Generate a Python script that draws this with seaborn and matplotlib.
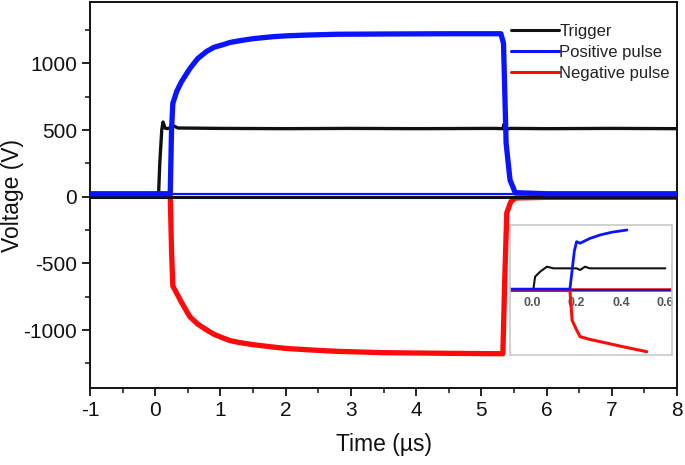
import numpy as np
import pandas as pd
import matplotlib
matplotlib.use("Agg")
import matplotlib.pyplot as plt
import seaborn as sns
from matplotlib.ticker import MultipleLocator

# ---- main traces (time in µs, voltage in V) ----
t_trigger = [-1, 0.05, 0.07, 0.10, 0.12, 0.15, 0.18, 0.22, 0.26, 0.35, 1, 2, 3, 4, 5.2, 5.33, 5.35, 5.37, 5.45, 6, 7, 8]
v_trigger = [0, 0, 250, 500, 560, 515, 510, 515, 535, 515, 512, 510, 512, 510, 512, 510, 545, 505, 512, 510, 512, 510]

t_pos = [-1, 0.23, 0.25, 0.27, 0.33, 0.40, 0.53, 0.65, 0.79, 0.90, 1.04, 1.15, 1.30, 1.50, 1.81, 2.0, 2.32, 2.78, 3.5, 4.5, 5.3, 5.34, 5.38, 5.44, 5.52, 6, 8]
v_pos = [22, 22, 500, 700, 790, 860, 960, 1035, 1090, 1120, 1140, 1157, 1170, 1185, 1200, 1206, 1212, 1218, 1220, 1222, 1222, 1150, 400, 125, 30, 22, 22]
pos_baseline = 22

t_neg = [-1, 0.23, 0.25, 0.27, 0.33, 0.40, 0.53, 0.65, 0.79, 0.90, 1.04, 1.15, 1.30, 1.50, 1.81, 2.0, 2.32, 2.78, 3.5, 4.5, 5.3, 5.33, 5.36, 5.39, 5.45, 5.52, 6, 8]
v_neg = [15, 15, -400, -670, -725, -790, -900, -955, -1000, -1032, -1060, -1080, -1095, -1110, -1128, -1138, -1148, -1160, -1170, -1175, -1178, -1178, -600, -122, -40, -10, -5, -5]

# ---- inset traces ----
ti_trig = [-0.1, 0.005, 0.013, 0.036, 0.066, 0.096, 0.2, 0.216, 0.238, 0.26, 0.6]
vi_trig = [0, 0, 307, 423, 538, 500, 500, 462, 538, 500, 500]
ti_pos = [-0.1, 0.17, 0.19, 0.20, 0.216, 0.26, 0.306, 0.36, 0.427]
vi_pos = [20, 20, 900, 1115, 1080, 1190, 1270, 1335, 1385]
ti_neg = [-0.1, 0.17, 0.18, 0.20, 0.216, 0.26, 0.306, 0.41, 0.516]
vi_neg = [-10, -10, -700, -923, -1077, -1140, -1192, -1310, -1423]

labels = ["Trigger", "Positive pulse", "Negative pulse"]
colors = {"Trigger": "#111111", "Positive pulse": "#0a14ff", "Negative pulse": "#ff0a0a"}
x_ticks = [-1, 0, 1, 2, 3, 4, 5, 6, 7, 8]
y_ticks = [-1000, -500, 0, 500, 1000]
inset_ticks = [0.0, 0.2, 0.4, 0.6]
inset_ticklabels = ["0.0", "0.2", "0.4", "0.6"]

sns.set_style("ticks")
plt.rcParams["font.family"] = ["Liberation Sans", "DejaVu Sans"]
plt.rcParams["axes.unicode_minus"] = False

fig = plt.figure(figsize=(6.85, 4.65), dpi=100)
ax = fig.add_axes([90/685, 1-388/465, 587/685, 386/465])

main = pd.concat([
    pd.DataFrame({"t": t_neg, "v": v_neg, "s": "Negative pulse"}),
    pd.DataFrame({"t": t_trigger, "v": v_trigger, "s": "Trigger"}),
    pd.DataFrame({"t": t_pos, "v": v_pos, "s": "Positive pulse"}),
])
lw = {"Trigger": 2.4, "Positive pulse": 3.8, "Negative pulse": 3.8}
z = {"Negative pulse": 2, "Trigger": 3, "Positive pulse": 4}
for name in ["Negative pulse", "Trigger", "Positive pulse"]:
    sns.lineplot(data=main[main.s == name], x="t", y="v", color=colors[name],
                 lw=lw[name], sort=False, estimator=None, ax=ax, zorder=z[name])
ax.axhline(0, color="#111111", lw=2.2, zorder=3.5)
ax.axhline(pos_baseline, color=colors["Positive pulse"], lw=1.6, zorder=3.6)

ax.set_xlim(-1, 8)
ax.set_ylim(-1435, 1460)
ax.set_xticks(x_ticks)
ax.set_xticklabels([str(v) for v in x_ticks])
ax.set_yticks(y_ticks)
ax.set_yticklabels([str(v) for v in y_ticks])
ax.xaxis.set_minor_locator(MultipleLocator(0.5))
ax.yaxis.set_minor_locator(MultipleLocator(250))
ax.tick_params(which="major", direction="out", length=6, width=1.3, labelsize=15, color="#111111", labelcolor="#111111")
ax.tick_params(which="minor", direction="out", length=3.5, width=1.1, color="#111111")
for sp in ax.spines.values():
    sp.set_linewidth(1.4)
    sp.set_color("#111111")
ax.set_xlabel("Time (µs)", fontsize=16.5, color="#111111", labelpad=9)
ax.set_ylabel("Voltage (V)", fontsize=16.5, color="#111111")
ax.yaxis.set_label_coords((24-90)/587, 0.5)

handles = [plt.Line2D([], [], color=colors[n], lw=2.2) for n in labels]
leg = fig.legend(handles, labels, loc="upper left", bbox_to_anchor=(511/685, 1-24/465),
                 frameon=False, fontsize=12, handlelength=2.9, handletextpad=0.0,
                 labelspacing=0.35, borderpad=0, borderaxespad=0)
for t in leg.get_texts():
    t.set_color("#222222")

# ---- inset ----
axi = fig.add_axes([510/685, 1-355/465, 162/685, 130/465])
axi.set_facecolor("white")
inset = pd.concat([
    pd.DataFrame({"t": ti_trig, "v": vi_trig, "s": "Trigger"}),
    pd.DataFrame({"t": ti_neg, "v": vi_neg, "s": "Negative pulse"}),
    pd.DataFrame({"t": ti_pos, "v": vi_pos, "s": "Positive pulse"}),
])
ilw = {"Trigger": 1.5, "Negative pulse": 2.2, "Positive pulse": 2.0}
for name in ["Trigger", "Negative pulse", "Positive pulse"]:
    sns.lineplot(data=inset[inset.s == name], x="t", y="v", color=colors[name],
                 lw=ilw[name], sort=False, estimator=None, ax=axi)
axi.axhline(0, color="#ff2020", lw=2.6, zorder=1)
axi.axhline(0, color="#2a1890", lw=1.6, zorder=1.5)
axi.set_xlim(-0.1, 0.63)
axi.set_ylim(-1500, 1500)
axi.set_xticks(inset_ticks)
axi.set_xticklabels(inset_ticklabels, fontweight="bold")
axi.set_yticks([])
axi.set_xlabel("")
axi.set_ylabel("")
axi.tick_params(axis="x", length=0, pad=-42, labelsize=9, labelcolor="#555555")
for sp in axi.spines.values():
    sp.set_color("#c8c8c8")
    sp.set_linewidth(1.2)

fig.savefig("out.png", dpi=100)
